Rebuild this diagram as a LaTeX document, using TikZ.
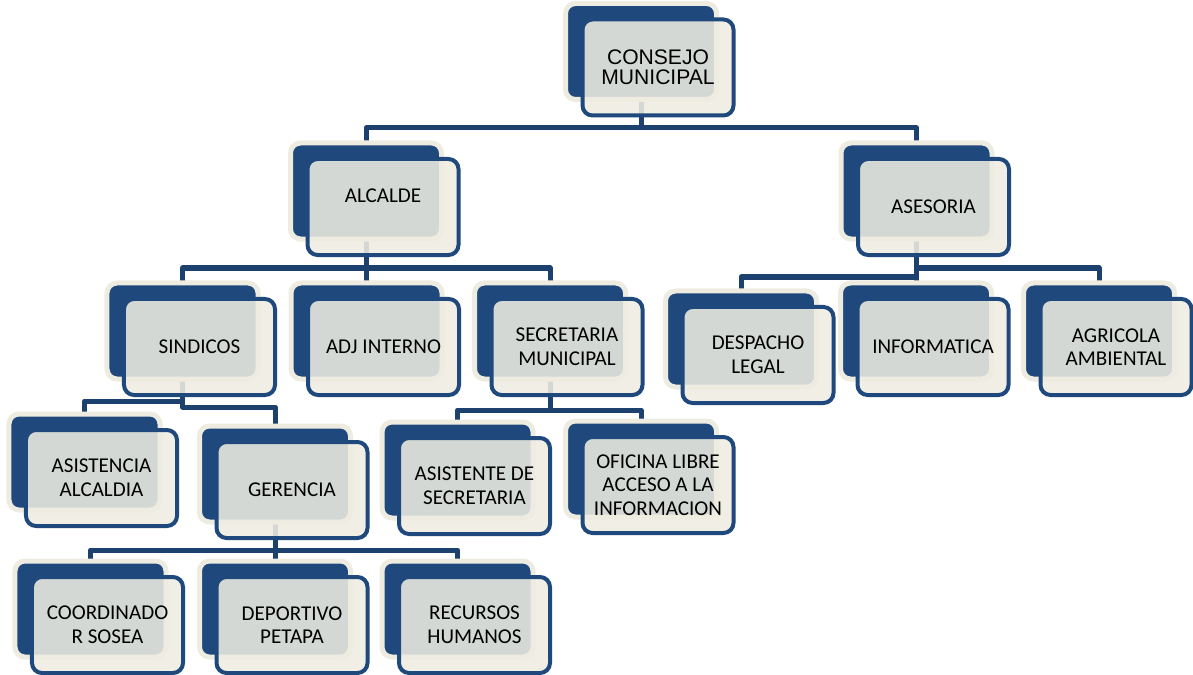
\documentclass[tikz,border=0pt]{standalone}
\usepackage{fontspec}
\setmainfont{Carlito}
\newfontfamily\arialfont{Liberation Sans}
\usetikzlibrary{backgrounds}
\definecolor{navy}{HTML}{1F497D}
\definecolor{cream}{HTML}{EEECE1}
\definecolor{linkblue}{HTML}{1D416F}
\tikzset{
	unit/.style = {rectangle, rounded corners = 2mm, draw = navy, line width = 0.8mm, fill = cream, fill opacity = 0.88, text opacity = 1, minimum width = 30.2mm, minimum height = 19.2mm, align = center, inner sep = 1mm, font = \fontsize{12}{13.4}\selectfont,
		preaction = {draw = cream, fill = navy, line width = 1mm, fill opacity = 1, transform canvas = {shift = {(-17, -16)}}}},
	% connectors run between the back boxes
	link/.style = {draw = linkblue, line width = 1mm, line join = round, transform canvas = {shift = {(-17, -16)}}}
}

\begin{document}
\begin{tikzpicture}[x = 0.2mm, y = -0.2mm]
		\useasboundingbox (0, 0) rectangle (1193, 675);

		\node [unit, font = \arialfont\fontsize{12}{11.4}\selectfont] (consejo) at (658, 67.5) {CONSEJO\\MUNICIPAL};

		\node [unit] (alcalde) at (383, 207) {\raisebox{4.4mm}{ALCALDE}};
		\node [unit] (asesoria) at (933.5, 207) {ASESORIA};

		\node [unit] (sindicos) at (199.5, 347) {SINDICOS};
		\node [unit] (adj) at (383.5, 347) {ADJ INTERNO};
		\node [unit] (secretaria) at (567, 347) {SECRETARIA\\MUNICIPAL};
		\node [unit] (despacho) at (758, 355) {DESPACHO\\LEGAL};
		\node [unit] (informatica) at (933, 347) {INFORMATICA};
		\node [unit] (agricola) at (1116, 347) {AGRICOLA\\AMBIENTAL};

		\node [unit] (asistencia) at (101.5, 478) {ASISTENCIA\\ALCALDIA};
		\node [unit] (gerencia) at (292, 490) {GERENCIA};
		\node [unit] (asistente) at (474.5, 486) {ASISTENTE DE\\SECRETARIA};
		\node [unit] (oficina) at (658, 485) {OFICINA LIBRE\\ACCESO A LA\\INFORMACION};

		\node [unit] (coordinador) at (107.5, 625) {COORDINADO\\R SOSEA};
		\node [unit] (deportivo) at (292, 625) {DEPORTIVO\\PETAPA};
		\node [unit] (recursos) at (474.5, 625) {RECURSOS\\HUMANOS};

		\begin{scope}[on background layer]
			\draw [link] (consejo.center) -- ++(0, 76.5) -| (alcalde.center);
			\draw [link] (consejo.center) -- ++(0, 76.5) -| (asesoria.center);

			\draw [link] (alcalde.center) -- ++(0, 77) -| (sindicos.center);
			\draw [link] (alcalde.center) -- ++(0, 77) -| (adj.center);
			\draw [link] (alcalde.center) -- ++(0, 77) -| (secretaria.center);

			\draw [link] (asesoria.center) -- ++(0, 86) -| (despacho.center);
			\draw [link] (asesoria.center) -- ++(0, 77) -| (informatica.center);
			\draw [link] (asesoria.center) -- ++(0, 77) -| (agricola.center);

			\draw [link] (sindicos.center) -- ++(0, 70) -| (asistencia.center);
			\draw [link] (sindicos.center) -- ++(0, 76) -| (gerencia.center);

			\draw [link] (secretaria.center) -- ++(0, 79) -| (asistente.center);
			\draw [link] (secretaria.center) -- ++(0, 79) -| (oficina.center);

			\draw [link] (gerencia.center) -- ++(0, 76) -| (coordinador.center);
			\draw [link] (gerencia.center) -- ++(0, 76) -| (deportivo.center);
			\draw [link] (gerencia.center) -- ++(0, 76) -| (recursos.center);
		\end{scope}
	\end{tikzpicture}
\end{document}
